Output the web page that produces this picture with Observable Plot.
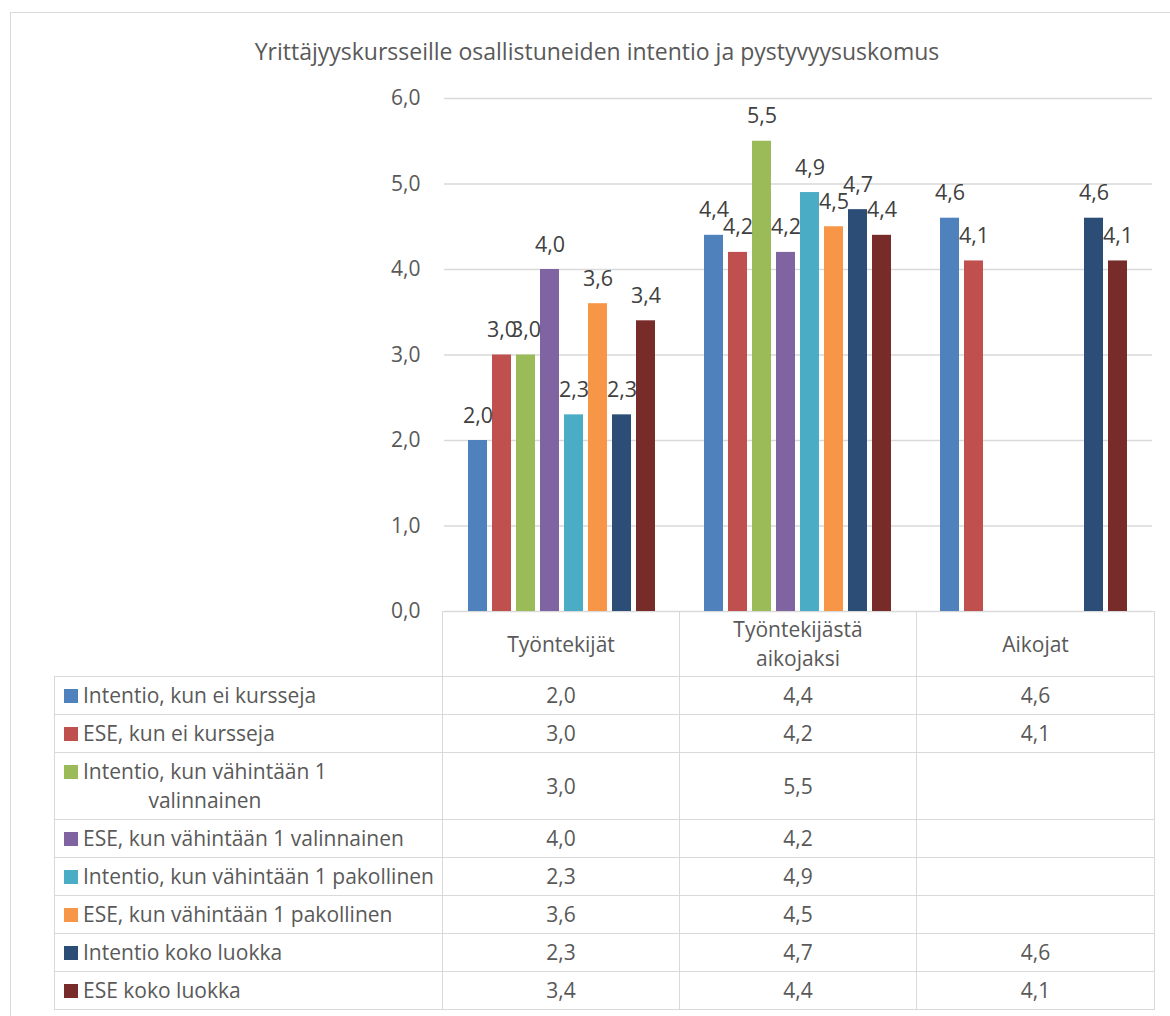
<!DOCTYPE html>
<html>
<head>
<meta charset="utf-8">
<script src="https://cdn.jsdelivr.net/npm/d3@7"></script>
<script src="https://cdn.jsdelivr.net/npm/@observablehq/plot@0.6"></script>
<style>
  html, body { margin: 0; padding: 0; background: #fff; }
  body { font-family: "Open Sans", Lato, sans-serif; }
  #wrap { position: relative; width: 1170px; height: 1016px; overflow: hidden; background: #fff; }
  #frame { position: absolute; left: 10px; top: 12px; width: 1300px; height: 1200px;
           border-left: 1.5px solid #d9d9d9; border-top: 1.5px solid #d9d9d9; box-sizing: border-box; }
  #title { position: absolute; left: 0; top: 38px; width: 1194px; text-align: center;
           font-size: 23px; line-height: 26px; color: #595959; white-space: nowrap; }
  #chart { position: absolute; left: 0; top: 0; }
  #tbl { position: absolute; left: 54px; top: 611px; border-collapse: collapse; table-layout: fixed;
         width: 1100px; font-size: 21px; color: #595959; }
  #tbl td { border: 1.5px solid #d9d9d9; padding: 4px 0; line-height: 29px; vertical-align: middle;
            text-align: center; white-space: nowrap; }
  #tbl td.corner { border-top: none; border-left: none; }
  #tbl tr.head td { height: 64px; padding: 0; }
  #tbl tr.row td { height: 20px; }
  .lab { display: flex; align-items: flex-start; padding-left: 9px; text-align: left; }
  .sw { width: 14px; height: 14px; flex: none; margin-top: 7.5px; margin-right: 5px; }
  .lines { display: inline-block; text-align: center; }
  .lines div { white-space: nowrap; }
</style>
</head>
<body>
<div id="wrap">
  <div id="frame"></div>
  <div id="chart"></div>
  <div id="title"></div>
  <table id="tbl"></table>
</div>
<script>
// ---- data ----
const titleText = "Yrittäjyyskursseille osallistuneiden intentio ja pystyvyysuskomus";
const categories = ["Työntekijät", "Työntekijästä aikojaksi", "Aikojat"];
const series = [
  "Intentio, kun ei kursseja",
  "ESE, kun ei kursseja",
  "Intentio, kun vähintään 1 valinnainen",
  "ESE, kun vähintään 1 valinnainen",
  "Intentio, kun vähintään 1 pakollinen",
  "ESE, kun vähintään 1 pakollinen",
  "Intentio koko luokka",
  "ESE koko luokka"
];
const colors = ["#4F81BD", "#C0504D", "#9BBB59", "#8064A2", "#4BACC6", "#F79646", "#2C4D75", "#772C2A"];
const tyontekijat = [2.0, 3.0, 3.0, 4.0, 2.3, 3.6, 2.3, 3.4];
const tyontekijastaAikojaksi = [4.4, 4.2, 5.5, 4.2, 4.9, 4.5, 4.7, 4.4];
const aikojat = [4.6, 4.1, null, null, null, null, 4.6, 4.1];
const yTicks = [0, 1, 2, 3, 4, 5, 6];

const valuesByCategory = [tyontekijat, tyontekijastaAikojaksi, aikojat];
const fmt = v => v == null ? "" : v.toFixed(1).replace(".", ",");

const data = [];
categories.forEach((c, ci) => {
  series.forEach((s, si) => {
    const v = valuesByCategory[ci][si];
    if (v != null) data.push({category: c, series: s, value: v});
  });
});

document.getElementById("title").textContent = titleText;

const chart = Plot.plot({
  width: 1170,
  height: 640,
  marginTop: 98,
  marginBottom: 29,
  marginLeft: 443,
  marginRight: 17,
  style: {fontFamily: "'Open Sans', sans-serif", color: "#595959", background: "transparent"},
  fx: {domain: categories, padding: 0, axis: null},
  x: {domain: series, paddingInner: 0.2, paddingOuter: 0.84, axis: null},
  y: {domain: [0, 6], axis: null},
  color: {domain: series, range: colors},
  marks: [
    Plot.gridY(yTicks, {stroke: "#d9d9d9", strokeOpacity: 1, strokeWidth: 1.5}),
    Plot.axisY(yTicks, {tickSize: 0, tickPadding: 24, tickFormat: fmt, fontSize: 21, fill: "#595959", label: null}),
    Plot.barY(data, {fx: "category", x: "series", y: "value", fill: "series"}),
    Plot.text(data, {fx: "category", x: "series", y: "value", text: d => fmt(d.value),
      dy: -18, lineAnchor: "bottom", fill: "#404040", fontSize: 21.5})
  ]
});
document.getElementById("chart").appendChild(chart);

// ---- data table under the chart ----
const canvas = document.createElement("canvas");
const ctx = canvas.getContext("2d");
function wrap(text, font, maxW) {
  ctx.font = font;
  const words = text.split(" ");
  const lines = [];
  let cur = "";
  for (const w of words) {
    const t = cur ? cur + " " + w : w;
    if (ctx.measureText(t).width > maxW && cur) { lines.push(cur); cur = w; }
    else cur = t;
  }
  if (cur) lines.push(cur);
  return lines;
}
const tbl = d3.select("#tbl");
const cg = tbl.append("colgroup");
[388, 237, 237, 238].forEach(w => cg.append("col").style("width", w + "px"));

const head = tbl.append("tr").attr("class", "head");
head.append("td").attr("class", "corner");
categories.forEach(c => {
  const td = head.append("td");
  const box = td.append("div").attr("class", "lines");
  wrap(c, "21px 'Open Sans'", 180).forEach(l => box.append("div").text(l));
});

series.forEach((s, si) => {
  const tr = tbl.append("tr").attr("class", "row");
  const lab = tr.append("td").append("div").attr("class", "lab");
  lab.append("div").attr("class", "sw").style("background", colors[si]);
  const box = lab.append("div").attr("class", "lines");
  wrap(s, "21px 'Open Sans'", 356).forEach(l => box.append("div").text(l));
  valuesByCategory.forEach(arr => tr.append("td").text(fmt(arr[si])));
});
</script>
</body>
</html>
